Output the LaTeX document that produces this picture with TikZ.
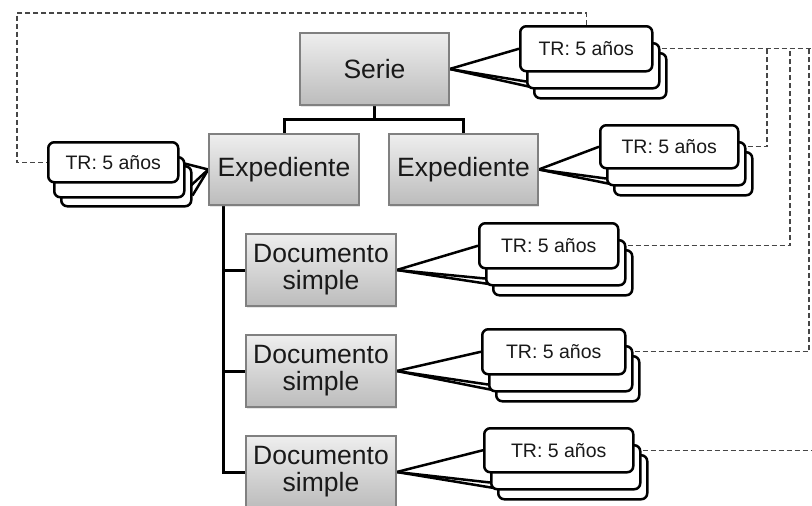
\documentclass[tikz,border=0pt]{standalone}
\usepackage{fontspec}
\setmainfont{Liberation Sans}
\usetikzlibrary{calc,backgrounds,shadows}

\definecolor{boxtop}{RGB}{238,238,238}
\definecolor{boxbot}{RGB}{188,188,188}
\definecolor{boxedge}{RGB}{128,128,128}
\definecolor{dashgray}{RGB}{70,70,70}
\definecolor{ink}{RGB}{25,25,25}

\tikzset{
  unit/.style={draw=boxedge, line width=1.4pt, top color=boxtop, bottom color=boxbot,
    text=ink, font=\fontsize{26.5}{27}\selectfont, align=center, inner sep=0pt,
    drop shadow={opacity=0.2, shadow xshift=1pt, shadow yshift=-1.5pt}},
  trbox/.style={draw=black, line width=2.5pt, fill=white, rounded corners=6pt,
    inner sep=0pt, text=ink, font=\fontsize{19.5}{22}\selectfont},
  tree/.style={line width=3pt, black},
  fan/.style={line width=2.5pt, black},
  retention/.style={draw=dashgray, line width=1.4pt, dash pattern=on 5pt off 3pt},
}

% a stack of three retention cards: name, left x, top y, width, height
\newcommand\retstack[5]{%
  \node[trbox, anchor=north west, minimum width=#4pt, minimum height=#5pt] (#1c) at (#2+14,#3+27) {};
  \node[trbox, anchor=north west, minimum width=#4pt, minimum height=#5pt] (#1b) at (#2+7,#3+17) {};
  \node[trbox, anchor=north west, minimum width=#4pt, minimum height=#5pt] (#1a) at (#2,#3) {TR: 5 años};
}

\begin{document}
\begin{tikzpicture}[x=1pt,y=-1pt]
\useasboundingbox (0,0) rectangle (812,506);

% archival units
\node[unit, minimum width=149pt, minimum height=72pt] (serie) at (374.5,69) {Serie};
\node[unit, minimum width=150pt, minimum height=71pt] (expL) at (284,169.5) {Expediente};
\node[unit, minimum width=149pt, minimum height=71pt] (expR) at (463.5,169.5) {Expediente};
\node[unit, minimum width=150pt, minimum height=72pt] (doc1) at (321,270) {Documento\\simple};
\node[unit, minimum width=150pt, minimum height=72pt] (doc2) at (321,371) {Documento\\simple};
\node[unit, minimum width=150pt, minimum height=72pt] (doc3) at (321,472) {Documento\\simple};

% retention cards
\retstack{ser}{519}{25}{132}{45}
\retstack{expr}{599}{124}{138}{43}
\retstack{doca}{478}{222}{139}{45}
\retstack{docb}{481}{328}{143}{45}
\retstack{docc}{483}{427}{149}{44}
% the left stack sits behind to the right
\node[trbox, anchor=north west, minimum width=130pt, minimum height=40pt] (leftc) at (60,165) {};
\node[trbox, anchor=north west, minimum width=130pt, minimum height=40pt] (leftb) at (53,156) {};
\node[trbox, anchor=north west, minimum width=130pt, minimum height=40pt] (lefta) at (47,141) {TR: 5 años};

\coordinate (rim) at (812,0);
\coordinate (v1) at (767,0);
\coordinate (v2) at (790,0);
\coordinate (v3) at (809,0);
\coordinate (spine) at ($(expL.south west)+(15,0)$);

\begin{scope}[on background layer]
  % hierarchy
  \draw[tree] (serie.south) -- ++(0,14) -| (expL.north);
  \draw[tree] (serie.south) -- ++(0,14) -| (expR.north);
  \draw[tree] (spine) |- (doc1.west);
  \draw[tree] (spine) |- (doc2.west);
  \draw[tree] (spine) |- (doc3.west);

  % fans to the card stacks
  \foreach \p/\s in {serie/ser, expR/expr, doc1/doca, doc2/docb, doc3/docc} {
    \draw[fan] (\p.east) -- (\s a.west);
    \draw[fan] (\p.east) -- ($(\s b.south west)+(0,-8)$);
    \draw[fan] (\p.east) -- ($(\s c.south west)+(0,-12)$);
  }
  \draw[fan] (expL.west) -- (lefta.east);
  \draw[fan] (expL.west) -- ($(leftb.south east)+(0,-8)$);
  \draw[fan] (expL.west) -- ($(leftc.south east)+(0,-12)$);

  % retention links
  \draw[retention] (sera.north) |- (17,13) |- (lefta.west);
  \draw[retention] (sera.east) -- (sera.east -| rim);
  \draw[retention] (expra.east) -| (v1 |- sera.east);
  \draw[retention] (docaa.east) -| (v2 |- sera.east);
  \draw[retention] (docba.east) -| (v3 |- sera.east);
  \draw[retention] (docca.east) -- (docca.east -| rim);
\end{scope}
\end{tikzpicture}
\end{document}
